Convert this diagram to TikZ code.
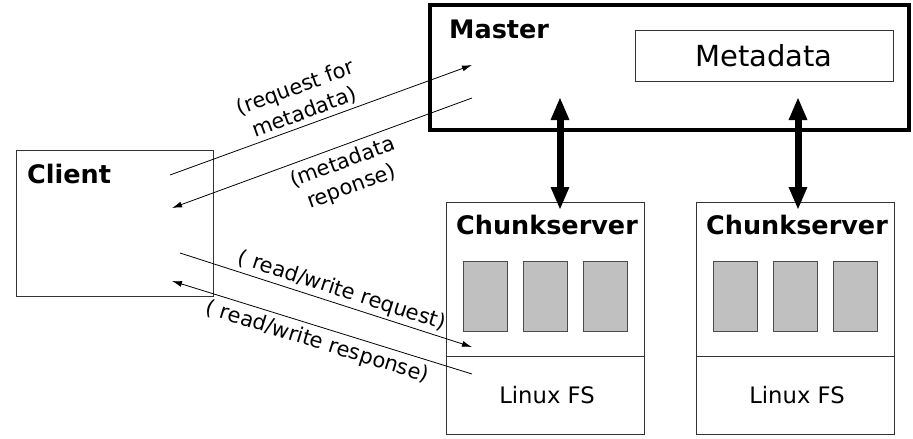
\documentclass[tikz,border=0pt]{standalone}
\usepackage{fontspec}
\setmainfont{DejaVu Sans}
\usetikzlibrary{positioning,arrows.meta}
\definecolor{chunkgray}{RGB}{192,192,192}

\begin{document}
\begin{tikzpicture}[
		x=1pt,y=-1pt,
		box/.style={draw=black!80,line width=0.8pt,inner sep=0pt,outer sep=0pt},
		chunk/.style={draw=black!70,fill=chunkgray,line width=0.8pt,minimum width=44pt,minimum height=70pt,inner sep=0pt,outer sep=0pt},
		title/.style={font=\fontsize{25.5}{30}\selectfont\bfseries,inner sep=0pt},
		plain/.style={font=\fontsize{22.7}{27}\selectfont,inner sep=0pt},
		msg/.style={font=\fontsize{21}{26}\selectfont,align=center,sloped,inner sep=3pt},
		msgline/.style={line width=0.8pt,-{Latex[length=10pt,width=6pt]}},
		bigarrow/.style={line width=7pt,{Triangle[length=23pt,width=17pt]}-{Triangle[length=23pt,width=17pt]}}
		]
		\useasboundingbox (0,0) rectangle (913,439);
		% client
		\node[box,minimum width=197pt,minimum height=146pt] (client) at (114.5,223) {};
		\node[title,anchor=base west] (clientlbl) at ([xshift=11pt,yshift=-33pt]client.north west) {Client};
		% master
		\node[draw,line width=3.5pt,inner sep=0pt,outer sep=0pt,minimum width=479pt,minimum height=125pt] (master) at (669.5,67.5) {};
		\node[title,anchor=base west] (masterlbl) at ([xshift=19pt,yshift=-33pt]master.north west) {Master};
		\node[box,minimum width=258pt,minimum height=51pt,font=\fontsize{29}{34}\selectfont] (meta) at (764,55.5) {Metadata};
		% chunkservers
		\node[box,minimum width=198pt,minimum height=232pt] (cs1) at (545,318) {};
		\node[box,minimum width=198pt,minimum height=232pt] (cs2) at (795,318) {};
		\node[title,anchor=base] (cs1lbl) at ([xshift=2pt,yshift=-32pt]cs1.north) {Chunkserver};
		\node[title,anchor=base] (cs2lbl) at ([xshift=2pt,yshift=-32pt]cs2.north) {Chunkserver};
		\draw[black!80,line width=0.8pt] ([yshift=78pt]cs1.south west) -- ([yshift=78pt]cs1.south east);
		\draw[black!80,line width=0.8pt] ([yshift=78pt]cs2.south west) -- ([yshift=78pt]cs2.south east);
		\node[plain,anchor=base] (fs1) at ([xshift=2pt,yshift=31pt]cs1.south) {Linux FS};
		\node[plain,anchor=base] (fs2) at ([xshift=2pt,yshift=31pt]cs2.south) {Linux FS};
		\node[chunk] (c12) at ([yshift=22pt]cs1.center) {};
		\node[chunk,left=16pt of c12] (c11) {};
		\node[chunk,right=16pt of c12] (c13) {};
		\node[chunk] (c22) at ([yshift=22pt]cs2.center) {};
		\node[chunk,left=16pt of c22] (c21) {};
		\node[chunk,right=16pt of c22] (c23) {};
		% master <-> chunkservers
		\draw[bigarrow] ([xshift=15pt,yshift=-8pt]cs1.north) -- ++(0,-113);
		\draw[bigarrow] ([xshift=3pt,yshift=-8pt]cs2.north) -- ++(0,-113);
		% client <-> master
		\path[msgline]
		([xshift=-43pt,yshift=48pt]client.east) edge node[msg,above,pos=0.46] {(request for\\metadata)} ([xshift=42pt,yshift=2.5pt]master.west)
		([xshift=42pt,yshift=-30.5pt]master.west) edge node[msg,below,pos=0.45,inner sep=6pt] {(metadata\\reponse)} ([xshift=-41pt,yshift=15pt]client.east);
		% client <-> chunkserver
		\path[msgline]
		([xshift=-33pt,yshift=-30pt]client.east) edge node[msg,above,pos=0.54] {( read/write request)} ([xshift=26pt,yshift=-29pt]cs1.west)
		([xshift=26pt,yshift=-56pt]cs1.west) edge node[msg,below,pos=0.5,inner sep=5pt] {( read/write response)} ([xshift=-41pt,yshift=-58pt]client.east);
	\end{tikzpicture}
\end{document}
